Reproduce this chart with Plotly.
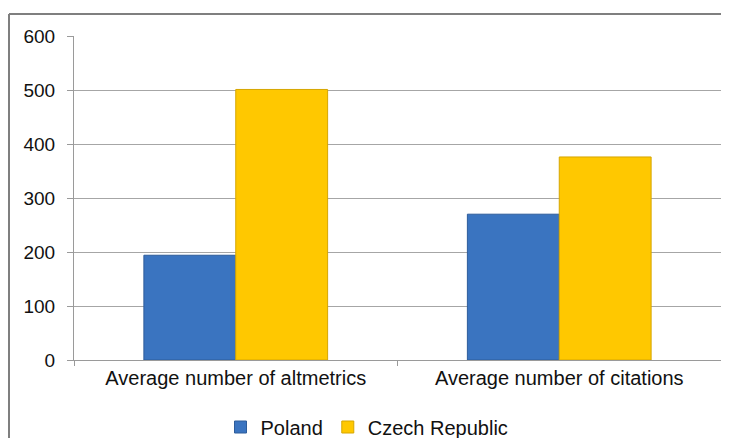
import plotly.graph_objects as go

categories = ["Average number of altmetrics", "Average number of citations"]
poland = [194, 270]
czech = [501, 376]
y_ticks = [0, 100, 200, 300, 400, 500, 600]

fig = go.Figure()
fig.add_trace(go.Bar(
    name="Poland", x=categories, y=poland,
    marker=dict(color="#3A74C0", line=dict(color="#2D5C9A", width=1)),
))
fig.add_trace(go.Bar(
    name="Czech Republic", x=categories, y=czech,
    marker=dict(color="#FFC800", line=dict(color="#D6A600", width=1)),
))

# page has an 8px body margin; figure sized to fit the 729x446 viewport
OFF = 8
W, H = 729 - 2 * OFF, 446 - 2 * OFF
L, T = 74 - OFF, 36 - OFF
plot_bottom = 360 - OFF
R = 0
B = H - plot_bottom
pw, ph = W - L - R, plot_bottom - T

def px(xpage):
    return (xpage - OFF - L) / pw

def py(ypage):
    return (plot_bottom - (ypage - OFF)) / ph

border = dict(color="#7F7F7F", width=2)

fig.update_layout(
    width=W, height=H,
    margin=dict(l=L, r=R, t=T, b=B, autoexpand=False),
    paper_bgcolor="white", plot_bgcolor="white",
    barmode="group", bargap=0.432, bargroupgap=0,
    font=dict(family="Liberation Sans, Arial, sans-serif", color="#111111", size=19),
    legend=dict(orientation="h", x=px(367), xanchor="center",
                y=py(427), yanchor="middle",
                font=dict(size=20), itemwidth=30, tracegroupgap=0),
    xaxis=dict(showline=True, linecolor="#9A9A9A", linewidth=1,
               ticks="outside", tickson="boundaries", ticklen=5, tickcolor="#9A9A9A",
               tickfont=dict(size=20), showgrid=False),
    yaxis=dict(range=[0, 600], tickvals=y_ticks, showline=True, linecolor="#9A9A9A",
               linewidth=1, ticks="outside", ticklen=6, tickcolor="#9A9A9A",
               gridcolor="#A6A6A6", gridwidth=1, zeroline=False,
               tickfont=dict(size=19), ticklabelstandoff=8),
    shapes=[
        dict(type="line", xref="paper", yref="paper",
             x0=px(9), x1=px(721), y0=py(14), y1=py(14), line=border, layer="below"),
        dict(type="line", xref="paper", yref="paper",
             x0=px(9), x1=px(9), y0=py(14), y1=py(438), line=border, layer="below"),
    ],
)

fig.write_html("out.html")
